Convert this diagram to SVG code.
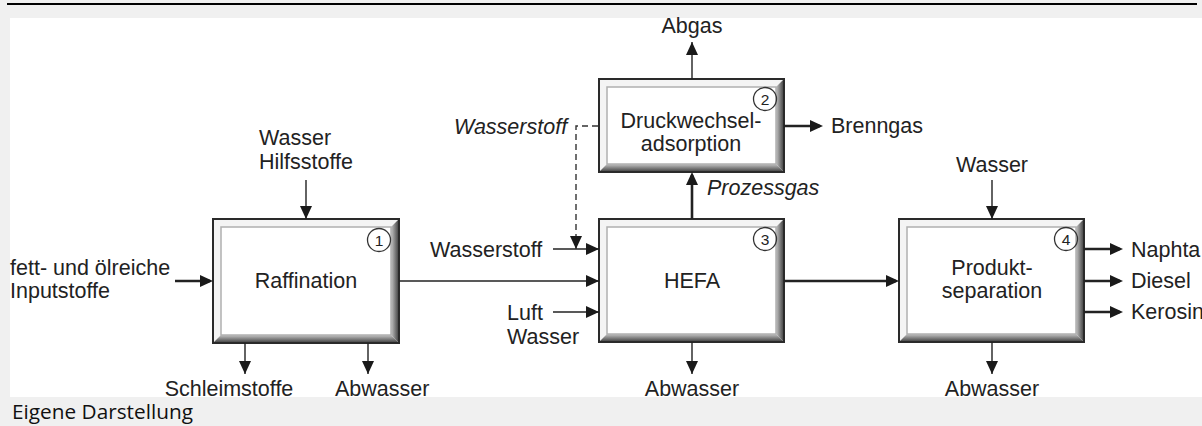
<svg xmlns="http://www.w3.org/2000/svg" width="1202" height="426" viewBox="0 0 1202 426">
  <style>
    text { font-family: "Liberation Sans", Arial, sans-serif; font-size: 21.5px; fill: #222; }
    .mid { text-anchor: middle; }
    .it { font-style: italic; }
    .num { font-size: 15.5px; text-anchor: middle; }
    .cap { font-family: "Open Sans", "Liberation Sans", sans-serif; font-size: 20.5px; fill: #111; }
    .frame { fill: #f4f4f4; }
    .face { fill: #fff; stroke: #b0b0b0; stroke-width: 1.5; }
    .edge { fill: none; stroke: #2a2a2a; stroke-width: 2; }
    .shade-b { fill: url(#shadeV); }
    .shade-r { fill: url(#shadeH); }
    .badge { fill: none; stroke: #333; stroke-width: 1.3; }
    .thin { fill: none; stroke: #222; stroke-width: 1.4; marker-end: url(#ah); }
    .thick { fill: none; stroke: #222; stroke-width: 2.6; marker-end: url(#ahT); }
    .dash { fill: none; stroke: #333; stroke-width: 1.4; stroke-dasharray: 6 4; marker-end: url(#ah); }
  </style>
  <defs>
    <linearGradient id="shadeV" x1="0" y1="0" x2="0" y2="1">
      <stop offset="0" stop-color="#c4c4c4"/>
      <stop offset="1" stop-color="#3c3c3c"/>
    </linearGradient>
    <linearGradient id="shadeH" x1="0" y1="0" x2="1" y2="0">
      <stop offset="0" stop-color="#c4c4c4"/>
      <stop offset="1" stop-color="#3c3c3c"/>
    </linearGradient>
    <marker id="ah" markerUnits="userSpaceOnUse" markerWidth="13" markerHeight="12" refX="13" refY="6" orient="auto">
      <path d="M0,0 L13,6 L0,12 Z" fill="#1a1a1a"/>
    </marker>
    <marker id="ahT" markerUnits="userSpaceOnUse" markerWidth="13" markerHeight="12" refX="10" refY="6" orient="auto">
      <path d="M0,0 L13,6 L0,12 Z" fill="#1a1a1a"/>
    </marker>
  </defs>

  <!-- page background and figure area -->
  <rect x="0" y="0" width="1202" height="426" fill="#f0f0f0"/>
  <line x1="7" y1="4" x2="1197" y2="4" stroke="#000" stroke-width="2.2"/>
  <rect x="10" y="18" width="1192" height="379" fill="#fff"/>

  <!-- 1 Raffination -->
  <g id="raffination">
    <rect class="frame" x="213" y="219" width="186" height="124"/>
    <polygon class="shade-b" points="213,343 399,343 391,335 221,335"/>
    <polygon class="shade-r" points="399,219 399,343 391,335 391,227"/>
    <rect class="face" x="221" y="227" width="170" height="108"/>
    <rect class="edge" x="213" y="219" width="186" height="124"/>
    <circle class="badge" cx="379" cy="240" r="11.5"/>
    <text class="num" x="379" y="245.5">1</text>
    <text class="mid" x="306" y="288">Raffination</text>
  </g>

  <!-- 2 Druckwechseladsorption -->
  <g id="druckwechseladsorption">
    <rect class="frame" x="599" y="79" width="185" height="93"/>
    <polygon class="shade-b" points="599,172 784,172 776,164 607,164"/>
    <polygon class="shade-r" points="784,79 784,172 776,164 776,87"/>
    <rect class="face" x="607" y="87" width="169" height="77"/>
    <rect class="edge" x="599" y="79" width="185" height="93"/>
    <circle class="badge" cx="765" cy="99" r="11.5"/>
    <text class="num" x="765" y="104.5">2</text>
    <text class="mid" x="691" y="128">Druckwechsel-</text>
    <text class="mid" x="691" y="151">adsorption</text>
  </g>

  <!-- 3 HEFA -->
  <g id="hefa">
    <rect class="frame" x="599" y="219" width="185" height="123"/>
    <polygon class="shade-b" points="599,342 784,342 776,334 607,334"/>
    <polygon class="shade-r" points="784,219 784,342 776,334 776,227"/>
    <rect class="face" x="607" y="227" width="169" height="107"/>
    <rect class="edge" x="599" y="219" width="185" height="123"/>
    <circle class="badge" cx="765" cy="239" r="11.5"/>
    <text class="num" x="765" y="244.5">3</text>
    <text class="mid" x="692" y="288">HEFA</text>
  </g>

  <!-- 4 Produktseparation -->
  <g id="produktseparation">
    <rect class="frame" x="899" y="219" width="185" height="123"/>
    <polygon class="shade-b" points="899,342 1084,342 1076,334 907,334"/>
    <polygon class="shade-r" points="1084,219 1084,342 1076,334 1076,227"/>
    <rect class="face" x="907" y="227" width="169" height="107"/>
    <rect class="edge" x="899" y="219" width="185" height="123"/>
    <circle class="badge" cx="1066" cy="239" r="11.5"/>
    <text class="num" x="1066" y="244.5">4</text>
    <text class="mid" x="992" y="275">Produkt-</text>
    <text class="mid" x="992" y="298">separation</text>
  </g>

  <!-- material flows -->
  <g id="connectors">
    <path class="thick" d="M175,281 H210"/>
    <path class="thin" d="M306,180 V219"/>
    <path class="thin" d="M245,343 V374"/>
    <path class="thin" d="M368,343 V374"/>
    <path class="thin" d="M399,281 H599"/>
    <path class="thin" d="M553,249 H599"/>
    <path class="thin" d="M553,312 H599"/>
    <path class="dash" d="M598,126 H576 V249"/>
    <path class="thin" d="M692,79 V42"/>
    <path class="thick" d="M692,219 V175"/>
    <path class="thick" d="M784,126 H820"/>
    <path class="thin" d="M692,342 V374"/>
    <path class="thick" d="M784,281 H896"/>
    <path class="thin" d="M992,180 V219"/>
    <path class="thin" d="M992,342 V374"/>
    <path class="thick" d="M1084,249 H1120"/>
    <path class="thick" d="M1084,281 H1120"/>
    <path class="thick" d="M1084,312 H1120"/>
  </g>

  <!-- flow labels -->
  <g id="labels">
    <text x="10" y="275">fett- und ölreiche</text>
    <text x="10" y="298">Inputstoffe</text>
    <text x="259" y="145">Wasser</text>
    <text x="259" y="169">Hilfsstoffe</text>
    <text class="mid" x="229" y="396">Schleimstoffe</text>
    <text x="335" y="396">Abwasser</text>
    <text class="mid" x="692" y="33">Abgas</text>
    <text class="it" x="454" y="134">Wasserstoff</text>
    <text x="430" y="257">Wasserstoff</text>
    <text x="507" y="320">Luft</text>
    <text x="507" y="344">Wasser</text>
    <text class="it" x="707" y="195">Prozessgas</text>
    <text class="mid" x="692" y="396">Abwasser</text>
    <text x="831" y="133">Brenngas</text>
    <text class="mid" x="992" y="172">Wasser</text>
    <text x="1131" y="257">Naphta</text>
    <text x="1131" y="288">Diesel</text>
    <text x="1131" y="319">Kerosin</text>
    <text class="mid" x="992" y="396">Abwasser</text>
  </g>

  <text class="cap" x="12" y="419" textLength="181" lengthAdjust="spacingAndGlyphs">Eigene Darstellung</text>
</svg>
